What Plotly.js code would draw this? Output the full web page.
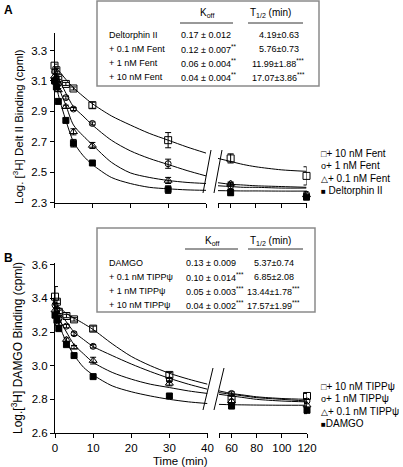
<!DOCTYPE html>
<html><head><meta charset="utf-8">
<script src="https://cdn.plot.ly/plotly-3.0.1.min.js"></script>
<style>html,body{margin:0;padding:0;background:#fff;}#chart{width:403px;height:467px;}</style>
</head><body><div id="chart"></div>
<script>
// ---------- DATA ----------
// Panel A : [3H] Deltorphin II dissociation
const timesA = [0, 0.5, 1, 3, 5, 10, 30, 60, 120];
const fent10 = [3.20, 3.17, 3.12, 3.08, 3.05, 2.94, 2.71, 2.59, 2.475];
const fent10Err = [0.01, 0.01, 0.01, 0.01, 0.01, 0.02, 0.05, 0.03, 0.06];
const fent1 = [3.16, 3.12, 3.08, 2.99, 2.915, 2.82, 2.555, 2.41, 2.355];
const fent1Err = [0.01, 0.01, 0.01, 0.01, 0.01, 0.01, 0.03, 0.02, 0.015];
const fent01 = [3.13, 3.09, 3.04, 2.93, 2.765, 2.675, 2.445, 2.425, 2.35];
const fent01Err = [0.01, 0.01, 0.01, 0.01, 0.02, 0.02, 0.02, 0.01, 0.01];
const deltII = [3.10, 3.06, 2.965, 2.84, 2.69, 2.56, 2.385, 2.365, 2.335];
const deltIIErr = [0.01, 0.01, 0.01, 0.01, 0.025, 0.01, 0.025, 0.02, 0.015];

// fitted curves
const curveTimes = [0, 1, 2, 3, 5, 7.5, 10, 15, 20, 25, 30, 35, 40, 50, 60, 70, 80, 100, 120];
const fitFent10 = [3.19, 3.17, 3.14, 3.11, 3.055, 3.0, 2.95, 2.87, 2.81, 2.755, 2.71, 2.665, 2.625, 2.59, 2.57, 2.55, 2.535, 2.515, 2.505];
const fitFent1  = [3.17, 3.12, 3.07, 3.02, 2.93, 2.87, 2.81, 2.71, 2.64, 2.59, 2.55, 2.51, 2.475, 2.43, 2.42, 2.415, 2.41, 2.405, 2.40];
const fitFent01 = [3.15, 3.07, 3.0, 2.94, 2.81, 2.74, 2.68, 2.565, 2.495, 2.465, 2.445, 2.432, 2.425, 2.41, 2.405, 2.40, 2.40, 2.395, 2.395];
const fitDeltII = [3.13, 3.01, 2.92, 2.84, 2.70, 2.61, 2.55, 2.465, 2.425, 2.40, 2.39, 2.383, 2.38, 2.378, 2.377, 2.376, 2.376, 2.375, 2.375];

// Panel B : [3H] DAMGO dissociation
const timesB = [0, 0.5, 1, 3, 5, 10, 30, 60, 120];
const tipp10 = [3.41, 3.38, 3.32, 3.295, 3.275, 3.22, 2.945, 2.80, 2.82];
const tipp10Err = [0.06, 0.01, 0.01, 0.01, 0.01, 0.015, 0.015, 0.02, 0.015];
const tipp1 = [3.36, 3.33, 3.28, 3.235, 3.19, 3.115, 2.915, 2.835, 2.79];
const tipp1Err = [0.01, 0.01, 0.01, 0.01, 0.01, 0.01, 0.01, 0.01, 0.01];
const tipp01 = [3.33, 3.30, 3.25, 3.155, 3.11, 3.03, 2.895, 2.79, 2.765];
const tipp01Err = [0.01, 0.01, 0.01, 0.01, 0.01, 0.02, 0.015, 0.01, 0.01];
const damgo = [3.30, 3.27, 3.22, 3.125, 3.06, 2.935, 2.82, 2.76, 2.735];
const damgoErr = [0.01, 0.01, 0.01, 0.01, 0.01, 0.01, 0.01, 0.01, 0.02];

const fitTipp10 = [3.37, 3.35, 3.33, 3.31, 3.283, 3.25, 3.215, 3.13, 3.055, 3.0, 2.955, 2.92, 2.89, 2.85, 2.835, 2.825, 2.815, 2.805, 2.80];
const fitTipp1  = [3.35, 3.32, 3.29, 3.26, 3.20, 3.155, 3.114, 3.06, 3.01, 2.965, 2.925, 2.89, 2.86, 2.84, 2.83, 2.82, 2.81, 2.80, 2.79];
const fitTipp01 = [3.33, 3.28, 3.24, 3.20, 3.125, 3.07, 3.02, 2.96, 2.92, 2.89, 2.87, 2.85, 2.835, 2.83, 2.82, 2.81, 2.80, 2.79, 2.785];
const fitDamgo  = [3.31, 3.25, 3.19, 3.14, 3.063, 2.99, 2.945, 2.88, 2.845, 2.82, 2.80, 2.785, 2.775, 2.77, 2.768, 2.767, 2.766, 2.765, 2.765];

// tick labels
const yTicksA = [2.3, 2.5, 2.7, 2.9, 3.1, 3.3];
const yTicksB = [2.6, 2.8, 3.0, 3.2, 3.4, 3.6];
const xTicksLeft = [0, 10, 20, 30, 40];
const xTicksRight = [50, 60, 80, 100, 120];
const xTickTextRight = ['', '60', '80', '100', '120'];

// tables
const tableA = [
  ['Deltorphin II', '0.17 ± 0.012', '4.19±0.63'],
  ['+ 0.1 nM Fent', '0.12 ± 0.007<sup>**</sup>', '5.76±0.73'],
  ['+ 1 nM Fent', '0.06 ± 0.004<sup>**</sup>', '11.99±1.88<sup>***</sup>'],
  ['+ 10 nM Fent', '0.04 ± 0.004<sup>**</sup>', '17.07±3.86<sup>***</sup>']
];
const tableB = [
  ['DAMGO', '0.13 ± 0.009', '5.37±0.74'],
  ['+ 0.1 nM TIPPψ', '0.10 ± 0.014<sup>***</sup>', '6.85±2.08'],
  ['+ 1 nM TIPPψ', '0.05 ± 0.003<sup>***</sup>', '13.44±1.78<sup>***</sup>'],
  ['+ 10 nM TIPPψ', '0.04 ± 0.002<sup>***</sup>', '17.57±1.99<sup>***</sup>']
];
const legendA = ['□+ 10 nM Fent', 'o+ 1 nM Fent', '△+ 0.1 nM Fent', '■ Deltorphin II'];
const legendB = ['□+ 10 nM TIPPψ', 'o+ 1 nM TIPPψ', '△+ 0.1 nM TIPPψ', '■DAMGO'];

// ---------- BUILD ----------
const W = 403, H = 467;
const px = x => x / W;
const py = y => 1 - y / H;
const FONT = 'Liberation Sans, Arial, sans-serif';

const traces = [];
function splitIdx(ts, left) { return ts.map((t, i) => i).filter(i => left ? ts[i] <= 40 : ts[i] > 40); }

function addSeries(ts, vals, errs, sym, size, xl, xr, yax) {
  [[true, xl], [false, xr]].forEach(([left, xa]) => {
    const idx = splitIdx(ts, left);
    traces.push({
      type: 'scatter', mode: 'markers', xaxis: xa, yaxis: yax, cliponaxis: false,
      x: idx.map(i => ts[i]), y: idx.map(i => vals[i]),
      error_y: {type: 'data', array: idx.map(i => errs[i]), visible: true, color: '#000', thickness: 1, width: 3},
      marker: {symbol: sym, size: size, color: '#000', line: {color: '#000', width: 1}},
      showlegend: false, hoverinfo: 'skip'
    });
  });
}
function addCurve(ts, vals, xl, xr, yax) {
  [[true, xl], [false, xr]].forEach(([left, xa]) => {
    const idx = splitIdx(ts, left);
    traces.push({
      type: 'scatter', mode: 'lines', xaxis: xa, yaxis: yax,
      x: idx.map(i => ts[i]), y: idx.map(i => vals[i]),
      line: {color: '#000', width: 1, shape: 'spline', smoothing: 0.8},
      showlegend: false, hoverinfo: 'skip'
    });
  });
}

// Panel A
[fitFent10, fitFent1, fitFent01, fitDeltII].forEach(c => addCurve(curveTimes, c, 'x', 'x2', 'y'));
addSeries(timesA, fent10, fent10Err, 'square-open', 7, 'x', 'x2', 'y');
addSeries(timesA, fent1, fent1Err, 'circle-open', 6, 'x', 'x2', 'y');
addSeries(timesA, fent01, fent01Err, 'triangle-up-open', 7, 'x', 'x2', 'y');
addSeries(timesA, deltII, deltIIErr, 'square', 6, 'x', 'x2', 'y');
// Panel B
[fitTipp10, fitTipp1, fitTipp01, fitDamgo].forEach(c => addCurve(curveTimes, c, 'x3', 'x4', 'y2'));
addSeries(timesB, tipp10, tipp10Err, 'square-open', 7, 'x3', 'x4', 'y2');
addSeries(timesB, tipp1, tipp1Err, 'circle-open', 6, 'x3', 'x4', 'y2');
addSeries(timesB, tipp01, tipp01Err, 'triangle-up-open', 7, 'x3', 'x4', 'y2');
addSeries(timesB, damgo, damgoErr, 'square', 6, 'x3', 'x4', 'y2');

const TF = {family: FONT, size: 11.5, color: '#000'};
const axBase = {
  showline: true, linecolor: '#000', linewidth: 1, ticks: 'outside', ticklen: 4, tickwidth: 1, tickcolor: '#000',
  showgrid: false, zeroline: false, fixedrange: true, tickfont: TF
};
const layout = {
  width: W, height: H, margin: {l: 0, r: 0, t: 0, b: 0},
  paper_bgcolor: '#fff', plot_bgcolor: 'rgba(0,0,0,0)', showlegend: false,
  font: {family: FONT, color: '#000'},
  xaxis: Object.assign({}, axBase, {domain: [px(54.5), px(206)], range: [0, 40], anchor: 'y', tickvals: xTicksLeft, showticklabels: false}),
  xaxis2: Object.assign({}, axBase, {domain: [px(218), px(306.5)], range: [50, 120], anchor: 'y', tickvals: xTicksRight, showticklabels: false}),
  yaxis: Object.assign({}, axBase, {domain: [py(202.5), py(33)], range: [2.3, 3.415], anchor: 'x', tickvals: yTicksA, ticktext: yTicksA.map(v => v.toFixed(1))}),
  xaxis3: Object.assign({}, axBase, {domain: [px(55), px(207.5)], range: [0, 40], anchor: 'y2', tickvals: xTicksLeft}),
  xaxis4: Object.assign({}, axBase, {domain: [px(219), px(307)], range: [50, 120], anchor: 'y2', tickvals: xTicksRight, ticktext: xTickTextRight}),
  yaxis2: Object.assign({}, axBase, {domain: [py(433), py(263)], range: [2.6, 3.61], anchor: 'x3', tickvals: yTicksB, ticktext: yTicksB.map(v => v.toFixed(1))}),
  shapes: [], annotations: []
};

const ann = (x, y, text, opts) => Object.assign({
  xref: 'paper', yref: 'paper', x: px(x), y: py(y), text: text, showarrow: false,
  xanchor: 'left', yanchor: 'middle', font: {family: FONT, size: 9, color: '#000'}
}, opts || {});
const line = (x0, y0, x1, y1, color, w) => ({type: 'line', xref: 'paper', yref: 'paper',
  x0: px(x0), y0: py(y0), x1: px(x1), y1: py(y1), line: {color: color || '#000', width: w || 1}});

// panel letters
layout.annotations.push(ann(2, 10, '<b>A</b>', {font: {family: FONT, size: 12, color: '#000'}}));
layout.annotations.push(ann(2, 258, '<b>B</b>', {font: {family: FONT, size: 12, color: '#000'}}));
// y titles
layout.annotations.push(ann(18, 127, 'Log. [<sup>3</sup>H] Delt II Binding (cpml)', {xanchor: 'center', textangle: -90, font: {family: FONT, size: 11.5, color: '#000'}}));
layout.annotations.push(ann(17, 348, 'Log.[<sup>3</sup>H] DAMGO Binding (cpml)', {xanchor: 'center', textangle: -90, font: {family: FONT, size: 12, color: '#000'}}));
// x title
layout.annotations.push(ann(180, 460.5, 'Time (min)', {xanchor: 'center', font: {family: FONT, size: 11.5, color: '#000'}}));

// tables
function addTable(rows, top, left, right, bottom, c2, c3, hdrY, ulY, rowY) {
  layout.shapes.push({type: 'rect', xref: 'paper', yref: 'paper', x0: px(left), x1: px(right), y0: py(bottom), y1: py(top),
    line: {color: '#8a8a8a', width: 1.5}, fillcolor: '#fff'});
  layout.annotations.push(ann(c2 + 28, hdrY, 'K<sub>off</sub>', {xanchor: 'center', font: {family: FONT, size: 10, color: '#000'}}));
  layout.annotations.push(ann(248, hdrY, 'T<sub>1/2</sub> (min)', {font: {family: FONT, size: 10, color: '#000'}}));
  layout.shapes.push(line(c2 + 1, ulY, c2 + 54, ulY, '#333', 1));
  layout.shapes.push(line(248, ulY, 303, ulY, '#333', 1));
  rows.forEach((r, i) => {
    const y = rowY + i * 14;
    layout.annotations.push(ann(107, y, r[0]));
    layout.annotations.push(ann(c2, y, r[1]));
    layout.annotations.push(ann(r[2].startsWith('1') ? c3 - 7 : c3, y, r[2]));
  });
}
addTable(tableA, 1, 97, 319, 86, 179, 257, 13, 23, 35);
addTable(tableB, 228, 97, 315, 312, 184, 252, 241, 249, 263);

// legends
function addLegend(items, x, y0) {
  items.forEach((t, i) => {
    const sym = t[0], rest = t.slice(1);
    const symSize = sym === 'o' ? 9 : (sym === '■' ? 8 : 9);
    layout.annotations.push(ann(x, y0 + i * 12.5, '<span style="font-size:' + symSize + 'px">' + sym + '</span>' + rest,
      {font: {family: FONT, size: 10, color: '#000'}}));
  });
}
addLegend(legendA, 319, 153);
addLegend(legendB, 319, 386);

// axis break marks
layout.shapes.push(line(211, 150, 203, 193));
layout.shapes.push(line(222, 150, 214, 193));
layout.shapes.push(line(213, 368, 203, 410));
layout.shapes.push(line(224, 368, 214, 410));

Plotly.newPlot('chart', traces, layout, {staticPlot: true, displayModeBar: false});
</script></body></html>
